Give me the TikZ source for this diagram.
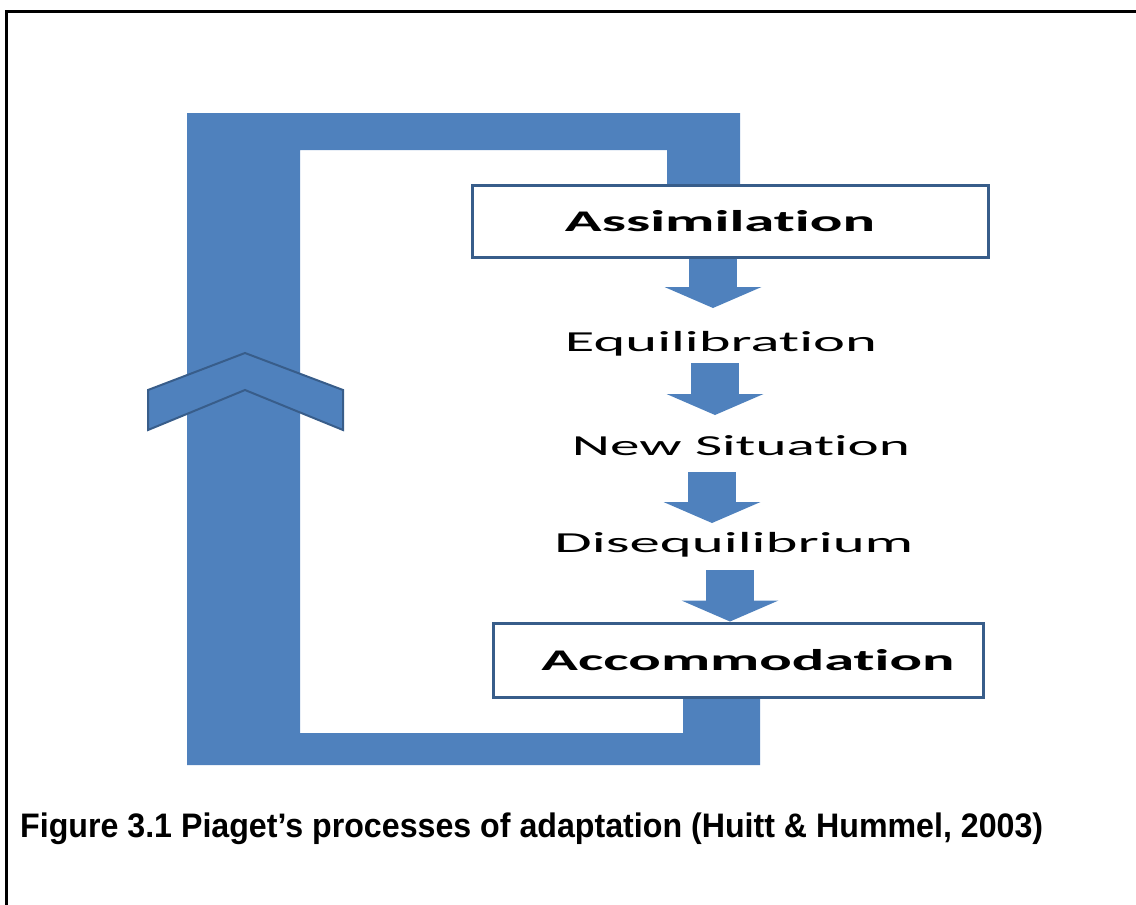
\documentclass[tikz,border=0pt]{standalone}
\usepackage{fontspec}
\usepackage{graphicx}
\newfontfamily\stagefont[Ligatures={NoCommon,NoRare}]{Carlito}
\newfontfamily\capfont{Liberation Sans}
\usetikzlibrary{arrows.meta}

\definecolor{loopblue}{HTML}{4F81BD}
\definecolor{edgeblue}{HTML}{385D8A}
\newcommand{\widen}[2]{\resizebox{#1pt}{\height}{#2}}

\tikzset{
  stagebox/.style={draw=edgeblue, line width=3pt, fill=white, inner sep=0pt,
    font=\stagefont\bfseries\fontsize{30}{36}\selectfont},
  stagetext/.style={anchor=base, inner sep=0pt,
    font=\stagefont\fontsize{29}{35}\selectfont},
  flowarrow/.style={draw=loopblue, line width=48pt,
    -{Triangle[length=21pt,width=97pt,line width=0pt]}}
}

\begin{document}
\begin{tikzpicture}[x=1pt,y=-1pt]
\useasboundingbox (0,0) rectangle (1136,905);

% frame
\draw [line width=3pt] (6,920) -- (6,11) -- (1150,11);

% feedback loop
\fill [loopblue] (187,113) -- (740,113) -- (740,195) -- (667,195) -- (667,150)
    -- (300,150) -- (300,733) -- (683,733) -- (683,680) -- (760,680)
    -- (760,765) -- (187,765) -- cycle;
\filldraw [fill=loopblue, draw=edgeblue, line width=2pt, line join=miter]
    (148,390) -- (245,353) -- (343,390) -- (343,430) -- (245,390)
    -- (148,430) -- cycle;

% stages
\node [stagebox, minimum width=516pt, minimum height=72pt] (asm) at (730,221)
    {\widen{310}{Assimilation}\hspace*{20pt}};
\node [stagebox, minimum width=490pt, minimum height=74pt] (acc) at (738,660)
    {\hspace*{20pt}\widen{413}{Accommodation}};

\node [stagetext] (eq)  at (721,351) {\widen{312}{Equilibration}};
\node [stagetext] (ns)  at (741,455) {\widen{338}{New Situation}};
\node [stagetext] (dis) at (734,552) {\widen{359}{Disequilibrium}};

\coordinate (eqtip)  at (713,308);
\coordinate (nstop)  at (715,363);
\coordinate (nstip)  at (715,415);
\coordinate (distop) at (712,472);
\coordinate (distip) at (712,523);
\coordinate (acctop) at (730,570);

\draw [flowarrow] (asm.south -| eqtip) -- (eqtip);
\draw [flowarrow] (nstop) -- (nstip);
\draw [flowarrow] (distop) -- (distip);
\draw [flowarrow] (acctop) -- (acc.north -| acctop);

% caption
\node [anchor=base west, inner sep=0pt,
    font=\capfont\bfseries\fontsize{34}{40}\selectfont] (cap) at (20,837)
    {\widen{1023}{Figure 3.1 Piaget’s processes of adaptation (Huitt \& Hummel, 2003)}};
\end{tikzpicture}
\end{document}
